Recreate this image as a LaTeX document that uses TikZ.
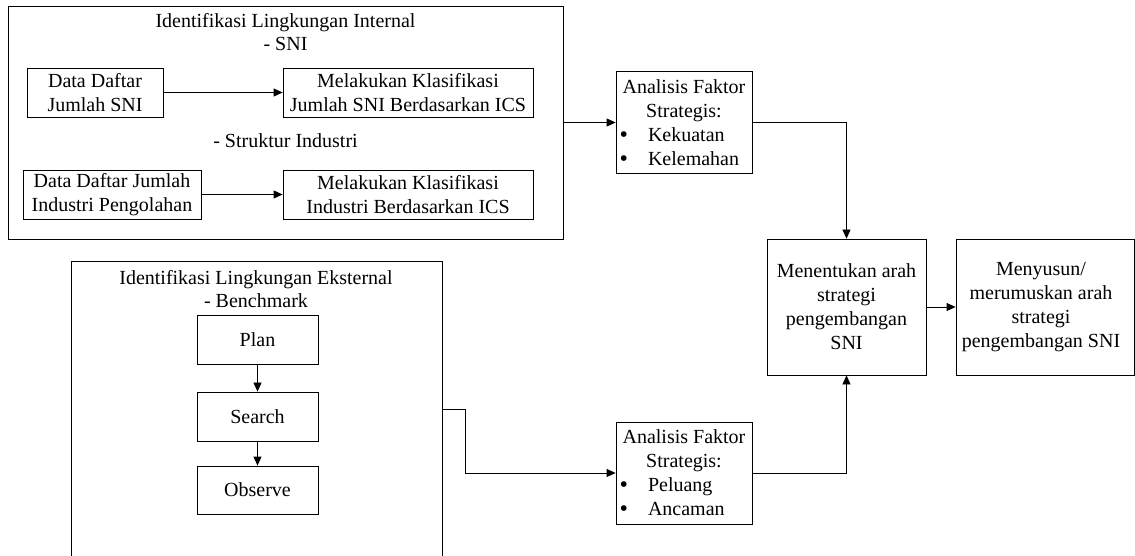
\documentclass[tikz,border=0pt]{standalone}
\usepackage{fontspec}
\setmainfont{Liberation Serif}
\usetikzlibrary{arrows.meta}
\tikzset{
  txt/.style={font=\fontsize{20bp}{24bp}\selectfont},
  box/.style={txt, draw, line width=0.8bp, inner sep=0pt, align=center},
  lbl/.style={txt, inner sep=0pt, anchor=base},
  ln/.style={line width=0.8bp},
  arr/.style={line width=0.8bp, -{Triangle[length=9bp,width=8bp]}}
}
\newcommand{\blt}[1]{\makebox[132bp][l]{\hspace*{1.5bp}\makebox[28.5bp][l]{\raisebox{-1bp}[0pt][0pt]{\fontsize{24bp}{24bp}\selectfont\textbullet}}#1}}
\begin{document}
\begin{tikzpicture}[x=1bp,y=-1bp]
\useasboundingbox (0,0) rectangle (1135,556);
% internal environment
\node[box, minimum width=555bp, minimum height=233bp] (int) at (285.5,122.5) {};
\node[lbl] (intt) at (285.5,28) {Identifikasi Lingkungan Internal};
\node[lbl] (ints) at (285.5,51) {- SNI};
\node[lbl] (inti) at (285.5,148) {- Struktur Industri};
\node[box, minimum width=136bp, minimum height=49bp] (d1) at (95,92.5) {Data Daftar\\Jumlah SNI};
\node[box, minimum width=250bp, minimum height=49bp] (k1) at (408,92.5) {Melakukan Klasifikasi\\Jumlah SNI Berdasarkan ICS};
\node[box, minimum width=178bp, minimum height=49bp] (d2) at (112,194.5) {Data Daftar Jumlah\\Industri Pengolahan};
\node[box, minimum width=250bp, minimum height=49bp] (k2) at (408,194.5) {Melakukan Klasifikasi\\Industri Berdasarkan ICS};
\draw[arr] (d1) -- (k1);
\draw[arr] (d2) -- (k2);
% external environment
\node[minimum width=370bp, minimum height=294bp, inner sep=0pt] (ext) at (257,409) {};
\draw[ln] (ext.south west) -- (ext.north west) -- (ext.north east) -- (ext.south east);
\node[lbl] (extt) at (256,285) {Identifikasi Lingkungan Eksternal};
\node[lbl] (extb) at (256,308) {- Benchmark};
\node[box, minimum width=121bp, minimum height=49bp] (plan) at (257.5,339.5) {Plan};
\node[box, minimum width=121bp, minimum height=49bp] (search) at (257.5,416.5) {Search};
\node[box, minimum width=121bp, minimum height=48bp] (observe) at (257.5,490) {Observe};
\draw[arr] (plan) -- (search);
\draw[arr] (search) -- (observe);
% analysis
\node[box, minimum width=136bp, minimum height=102bp] (af1) at (684,122.5) {Analisis Faktor\\Strategis:\\\blt{Kekuatan}\\\blt{Kelemahan}};
\node[box, minimum width=136bp, minimum height=102bp] (af2) at (684,473) {Analisis Faktor\\Strategis:\\\blt{Peluang}\\\blt{Ancaman}};
\node[box, minimum width=159bp, minimum height=136bp] (men) at (846.5,307) {Menentukan arah\\strategi\\pengembangan\\SNI};
\node[box, minimum width=178bp, minimum height=136bp] (mys) at (1045,307) {};
\node[txt, align=center, inner sep=0pt] (myst) at (1041,307) {Menyusun/\\merumuskan arah\\strategi\\pengembangan SNI};
\draw[arr] (int.east) -- (af1.west);
\draw[arr] (ext.east) -- ++(23,0) |- (af2.west);
\draw[arr] (af1.east) -| (men.north);
\draw[arr] (af2.east) -| (men.south);
\draw[arr] (men.east) -- (mys.west);
\end{tikzpicture}
\end{document}
